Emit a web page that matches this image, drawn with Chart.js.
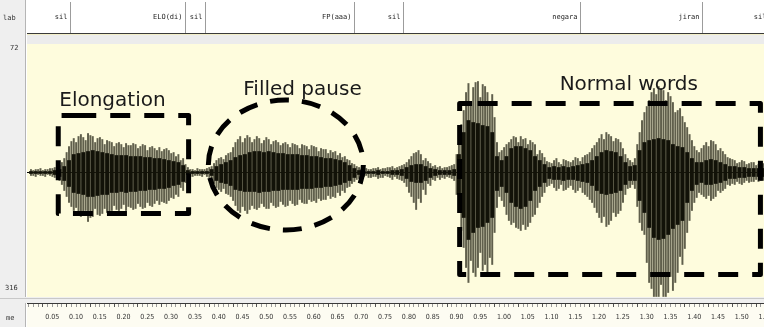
<!DOCTYPE html>
<html>
<head>
<meta charset="utf-8">
<script src="https://cdn.jsdelivr.net/npm/chart.js@4.4.1/dist/chart.umd.min.js"></script>
<style>
  html, body { margin: 0; padding: 0; background: #fff; }
  #wrap { width: 764px; height: 327px; position: relative; }
</style>
</head>
<body>
<div id="wrap"><canvas id="waveChart"></canvas></div>
<script>
// label tier: text of each segment and the time (s) where it ends
const segLabels = ['sil', 'ELO(di)', 'sil', 'FP(aaa)', 'sil', 'negara', 'jiran', 'sil'];
const segEnds = [0.102, 0.343, 0.387, 0.699, 0.803, 1.174, 1.431, 1.573];

// visible time window (s) and amplitude window
const viewStart = 0.0167;
const viewEnd = 1.5565;
const ampMin = -130.5;
const ampMax = 128.5;

// waveform envelope, one bin every 10 ms from 0.02 s
const binStart = 0.02;
const binStep = 0.01;
const peakHi = [
  3, 3, 4, 3, 4, 5, 7, 14, 26, 34,
  36, 35, 39, 36, 34, 33, 32, 30, 29, 28,
  29, 27, 28, 26, 27, 25, 24, 25, 23, 22,
  20, 18, 14, 5, 3, 4, 3, 4, 6, 12,
  15, 17, 20, 30, 36, 34, 35, 33, 34, 32,
  33, 31, 30, 29, 28, 29, 27, 28, 26, 27,
  25, 24, 23, 22, 21, 19, 16, 12, 8, 5,
  4, 3, 4, 5, 4, 5, 6, 5, 7, 10,
  16, 20, 18, 14, 9, 7, 6, 5, 6, 8,
  30, 62, 89, 85, 91, 88, 80, 78, 30, 22,
  28, 33, 35, 36, 34, 32, 28, 22, 15, 10,
  12, 10, 13, 11, 12, 14, 15, 18, 24, 30,
  38, 40, 36, 34, 30, 18, 12, 14, 40, 60,
  72, 84, 86, 82, 80, 70, 62, 56, 45, 32,
  22, 24, 30, 32, 28, 24, 18, 14, 12, 10,
  11, 9, 10, 8, 9
];
const peakLo = [
  -3, -4, -3, -4, -3, -5, -8, -18, -30, -38,
  -40, -42, -49, -44, -42, -41, -40, -38, -37, -36,
  -38, -35, -36, -34, -35, -33, -31, -32, -30, -28,
  -26, -24, -18, -5, -4, -3, -4, -4, -7, -15,
  -19, -21, -24, -33, -40, -38, -37, -36, -35, -34,
  -36, -33, -34, -32, -33, -31, -32, -30, -31, -29,
  -30, -28, -27, -26, -25, -23, -20, -14, -9, -6,
  -4, -5, -4, -6, -5, -4, -7, -6, -8, -14,
  -24, -37, -30, -22, -13, -8, -7, -6, -5, -8,
  -40, -75, -110, -100, -95, -98, -100, -92, -35, -28,
  -42, -52, -55, -58, -57, -50, -42, -30, -20, -13,
  -15, -16, -18, -15, -17, -18, -20, -24, -30, -40,
  -50, -54, -48, -44, -38, -22, -15, -16, -50, -62,
  -110, -124, -124, -124, -120, -118, -100, -92, -60, -38,
  -25, -22, -26, -28, -24, -20, -16, -13, -12, -11,
  -10, -10, -9, -9, -8
];
// the pulses in between, 5 ms later than each bin
const midHi = [
  2, 3, 2, 3, 4, 6, 10, 20, 31, 30,
  38, 32, 37, 30, 35, 28, 31, 26, 30, 25,
  27, 29, 24, 28, 22, 26, 22, 21, 24, 19,
  16, 12, 8, 3, 2, 3, 3, 5, 9, 14,
  13, 19, 25, 33, 30, 37, 30, 36, 29, 35,
  28, 32, 27, 30, 25, 28, 24, 27, 23, 26,
  21, 23, 19, 20, 17, 15, 13, 9, 6, 3,
  4, 3, 4, 3, 4, 5, 4, 6, 8, 13,
  19, 22, 12, 11, 6, 5, 4, 5, 7, 18,
  48, 80, 70, 90, 75, 86, 70, 55, 20, 25,
  30, 36, 30, 33, 28, 30, 18, 19, 11, 9,
  14, 8, 12, 10, 15, 11, 17, 20, 27, 34,
  33, 38, 31, 33, 24, 14, 10, 28, 52, 66,
  80, 78, 84, 72, 76, 60, 64, 50, 38, 26,
  20, 27, 26, 31, 22, 21, 15, 13, 9, 12,
  8, 10, 7, 9
];
const midLo = [
  -3, -2, -3, -2, -4, -6, -12, -24, -34, -35,
  -44, -38, -45, -36, -43, -36, -40, -33, -38, -32,
  -34, -37, -31, -36, -30, -34, -28, -29, -31, -25,
  -22, -15, -10, -4, -3, -3, -2, -5, -11, -17,
  -16, -22, -28, -38, -34, -41, -33, -37, -31, -36,
  -30, -35, -29, -34, -28, -33, -27, -31, -27, -28,
  -26, -27, -23, -24, -20, -18, -15, -11, -7, -4,
  -3, -5, -4, -5, -3, -5, -4, -7, -10, -20,
  -30, -26, -17, -11, -7, -5, -5, -4, -6, -22,
  -58, -95, -88, -104, -80, -92, -85, -60, -24, -34,
  -48, -50, -56, -52, -54, -44, -35, -24, -14, -11,
  -18, -12, -17, -13, -20, -15, -22, -27, -35, -45,
  -44, -52, -40, -41, -30, -16, -12, -34, -58, -90,
  -116, -124, -112, -124, -104, -110, -84, -76, -48, -30,
  -20, -24, -23, -26, -18, -18, -12, -11, -9, -12,
  -8, -9, -7, -8
];
const coreHi = [
  1, 1, 1, 1, 1, 2, 3, 6, 12, 18,
  19, 20, 21, 22, 21, 20, 19, 18, 17, 17,
  17, 16, 16, 16, 15, 15, 14, 14, 13, 12,
  11, 10, 7, 2, 1, 1, 1, 1, 3, 6,
  8, 10, 12, 15, 17, 18, 20, 21, 21, 20,
  21, 20, 19, 19, 18, 18, 18, 17, 17, 16,
  16, 15, 14, 14, 13, 12, 10, 7, 4, 2,
  1, 1, 1, 2, 1, 1, 2, 2, 3, 5,
  7, 8, 8, 6, 4, 3, 2, 2, 2, 3,
  18, 40, 52, 50, 49, 47, 46, 40, 16, 12,
  16, 24, 26, 26, 24, 22, 16, 12, 8, 5,
  6, 5, 6, 5, 6, 7, 8, 9, 12, 16,
  20, 22, 21, 20, 16, 10, 6, 7, 22, 30,
  32, 33, 34, 33, 32, 28, 26, 25, 20, 14,
  10, 10, 12, 13, 12, 10, 8, 6, 6, 5,
  5, 4, 4, 4, 4
];
const coreLo = [
  -1, -1, -1, -1, -1, -2, -4, -8, -14, -20,
  -21, -22, -24, -24, -23, -22, -22, -20, -20, -19,
  -20, -19, -19, -18, -18, -17, -17, -16, -16, -15,
  -13, -12, -9, -2, -1, -1, -1, -1, -3, -8,
  -10, -11, -13, -17, -18, -19, -19, -19, -20, -19,
  -19, -18, -18, -17, -17, -17, -17, -16, -16, -16,
  -15, -15, -14, -14, -13, -12, -10, -8, -5, -2,
  -1, -1, -1, -2, -1, -1, -2, -2, -3, -6,
  -9, -10, -10, -8, -5, -3, -2, -2, -2, -3,
  -22, -45, -67, -60, -55, -54, -50, -45, -18, -14,
  -20, -30, -34, -36, -34, -28, -18, -14, -10, -6,
  -7, -7, -8, -7, -7, -8, -9, -10, -13, -18,
  -21, -22, -21, -20, -18, -12, -8, -8, -28, -40,
  -55, -65, -67, -66, -62, -56, -52, -48, -30, -18,
  -12, -10, -12, -12, -11, -10, -8, -6, -6, -5,
  -5, -4, -4, -4, -4
];

// hand drawn annotations, in seconds / amplitude units
const noteTexts = ['Elongation', 'Filled pause', 'Normal words'];
const noteAt = [[0.0795, 66.8], [0.4665, 77.5], [1.1318, 82.5]];
const elongBox = [0.0774, 0.3515, 57, -41];     // t0, t1, top, bottom
const pauseRing = [0.556, 0.163, 7.5, 65];       // centre t, radius t, centre amp, radius amp
const wordsBox = [0.9215, 1.554, 69, -102];
const plotFloor = -124.5;

const binTimes = peakHi.map((_, i) => Math.round((binStart + i * binStep) * 100) / 100);
const spikes = [];
binTimes.forEach((t, i) => {
  spikes.push({ x: t, y: [peakLo[i], peakHi[i]] });
  if (i < midHi.length) spikes.push({ x: t + binStep / 2, y: [midLo[i], midHi[i]] });
});
const core = binTimes.map((t, i) => ({ x: t, y: [coreLo[i], coreHi[i]] }));

const isMajor = v => Math.abs(v * 20 - Math.round(v * 20)) < 1e-6;

const backdrop = {
  id: 'backdrop',
  beforeDraw(chart) {
    const { ctx, chartArea: a, width, height } = chart;
    const floor = chart.scales.y.getPixelForValue(plotFloor);
    ctx.save();
    ctx.fillStyle = '#ffffff';
    ctx.fillRect(0, 0, width, height);
    // left name column
    ctx.fillStyle = '#efefef';
    ctx.fillRect(0, 0, a.left - 1, height);
    ctx.fillStyle = '#b5b5b5';
    ctx.fillRect(a.left - 2, 0, 1, height);
    // strip between tier and waveform
    ctx.fillStyle = '#ececec';
    ctx.fillRect(a.left, 35, width - a.left, a.top - 35);
    ctx.fillStyle = '#3a3a3a';
    ctx.fillRect(a.left, 33, width - a.left, 1);
    ctx.fillStyle = '#f3efc8';
    ctx.fillRect(a.left, 34, width - a.left, 1);
    // waveform pane
    ctx.fillStyle = '#fefcdd';
    ctx.fillRect(a.left, a.top, a.right - a.left, floor - a.top);
    // strip above the ruler
    ctx.fillStyle = '#efefef';
    ctx.fillRect(0, floor, width, a.bottom - floor);
    ctx.fillStyle = '#c8c8c8';
    ctx.fillRect(0, floor + 1, width, 1);
    // ruler
    ctx.fillStyle = '#fdfcf2';
    ctx.fillRect(a.left, a.bottom, width - a.left, height - a.bottom);
    ctx.restore();
  }
};

const overlay = {
  id: 'overlay',
  afterDraw(chart) {
    const { ctx, scales: { x, y } } = chart;
    ctx.save();

    // label tier
    ctx.font = '7px "DejaVu Sans Mono"';
    ctx.textAlign = 'right';
    ctx.textBaseline = 'middle';
    segEnds.forEach((t, i) => {
      const px = Math.round(x.getPixelForValue(t)) + 0.5;
      ctx.strokeStyle = '#9c9c9c';
      ctx.lineWidth = 1;
      ctx.beginPath();
      ctx.moveTo(px, 2);
      ctx.lineTo(px, 33);
      ctx.stroke();
      ctx.fillStyle = '#222';
      ctx.fillText(segLabels[i], px - 3, 17);
    });

    // cut-off names in the left column
    ctx.textAlign = 'left';
    ctx.fillStyle = '#333';
    ctx.fillText('lab', 3, 18);
    ctx.fillText('72', 10, 48);
    ctx.fillText('316', 5, 288);
    ctx.fillText('me', 6, 318);

    // annotations
    ctx.fillStyle = '#1a1a1a';
    ctx.font = '20px "DejaVu Sans"';
    ctx.textBaseline = 'alphabetic';
    noteTexts.forEach((s, i) => {
      ctx.fillText(s, x.getPixelForValue(noteAt[i][0]), y.getPixelForValue(noteAt[i][1]));
    });

    ctx.strokeStyle = '#000';
    ctx.lineWidth = 5;
    ctx.lineJoin = 'round';
    ctx.setLineDash([20, 14]);
    [elongBox, wordsBox].forEach(b => {
      const x0 = x.getPixelForValue(b[0]);
      const x1 = x.getPixelForValue(b[1]);
      const y0 = y.getPixelForValue(b[2]);
      const y1 = y.getPixelForValue(b[3]);
      ctx.beginPath();
      ctx.moveTo(x0 + 18, y0);
      ctx.lineTo(x1, y0);
      ctx.lineTo(x1, y1);
      ctx.lineTo(x0, y1);
      ctx.lineTo(x0, y0);
      ctx.lineTo(x0 + 18, y0);
      ctx.stroke();
    });
    const cx = x.getPixelForValue(pauseRing[0]);
    const rx = x.getPixelForValue(pauseRing[0] + pauseRing[1]) - cx;
    const cy = y.getPixelForValue(pauseRing[2]);
    const ry = cy - y.getPixelForValue(pauseRing[2] + pauseRing[3]);
    ctx.setLineDash([19, 13]);
    ctx.beginPath();
    ctx.ellipse(cx, cy, rx, ry, 0, 0, Math.PI * 2);
    ctx.stroke();
    ctx.restore();
  }
};

new Chart(document.getElementById('waveChart'), {
  type: 'bar',
  data: {
    datasets: [
      {
        data: core, backgroundColor: '#121208',
        borderWidth: 0, barThickness: 3.2, grouped: false, order: 1
      },
      {
        data: spikes, backgroundColor: 'rgba(35,35,20,0.72)',
        borderWidth: 0, barThickness: 1.3, grouped: false, order: 2
      }
    ]
  },
  options: {
    responsive: true,
    maintainAspectRatio: false,
    animation: false,
    layout: { padding: { left: 27, top: 44, right: 0, bottom: 0 } },
    plugins: { legend: { display: false }, tooltip: { enabled: false } },
    scales: {
      x: {
        type: 'linear',
        min: viewStart,
        max: viewEnd,
        afterFit: s => { s.height = 24; s.paddingLeft = 0; s.paddingRight = 0; },
        border: { display: true, color: '#3a3a3a', width: 1 },
        grid: {
          drawOnChartArea: false,
          tickLength: 4,
          tickColor: c => (c.tick && isMajor(c.tick.value)) ? '#555' : '#9a9a9a'
        },
        ticks: {
          stepSize: 0.01,
          includeBounds: false,
          autoSkip: false,
          maxRotation: 0,
          align: 'start',
          padding: 6,
          color: '#333',
          font: { family: '"Liberation Sans Narrow", "DejaVu Sans Condensed", sans-serif', size: 7 },
          callback: v => isMajor(v) ? v.toFixed(2) : ''
        }
      },
      y: {
        min: ampMin,
        max: ampMax,
        afterFit: s => { s.width = 0; },
        border: { display: false },
        grid: {
          drawTicks: false,
          color: c => (c.tick && c.tick.value === 0) ? '#000' : 'rgba(0,0,0,0)'
        },
        ticks: { display: false, stepSize: 10 }
      }
    }
  },
  plugins: [backdrop, overlay]
});
</script>
</body>
</html>
